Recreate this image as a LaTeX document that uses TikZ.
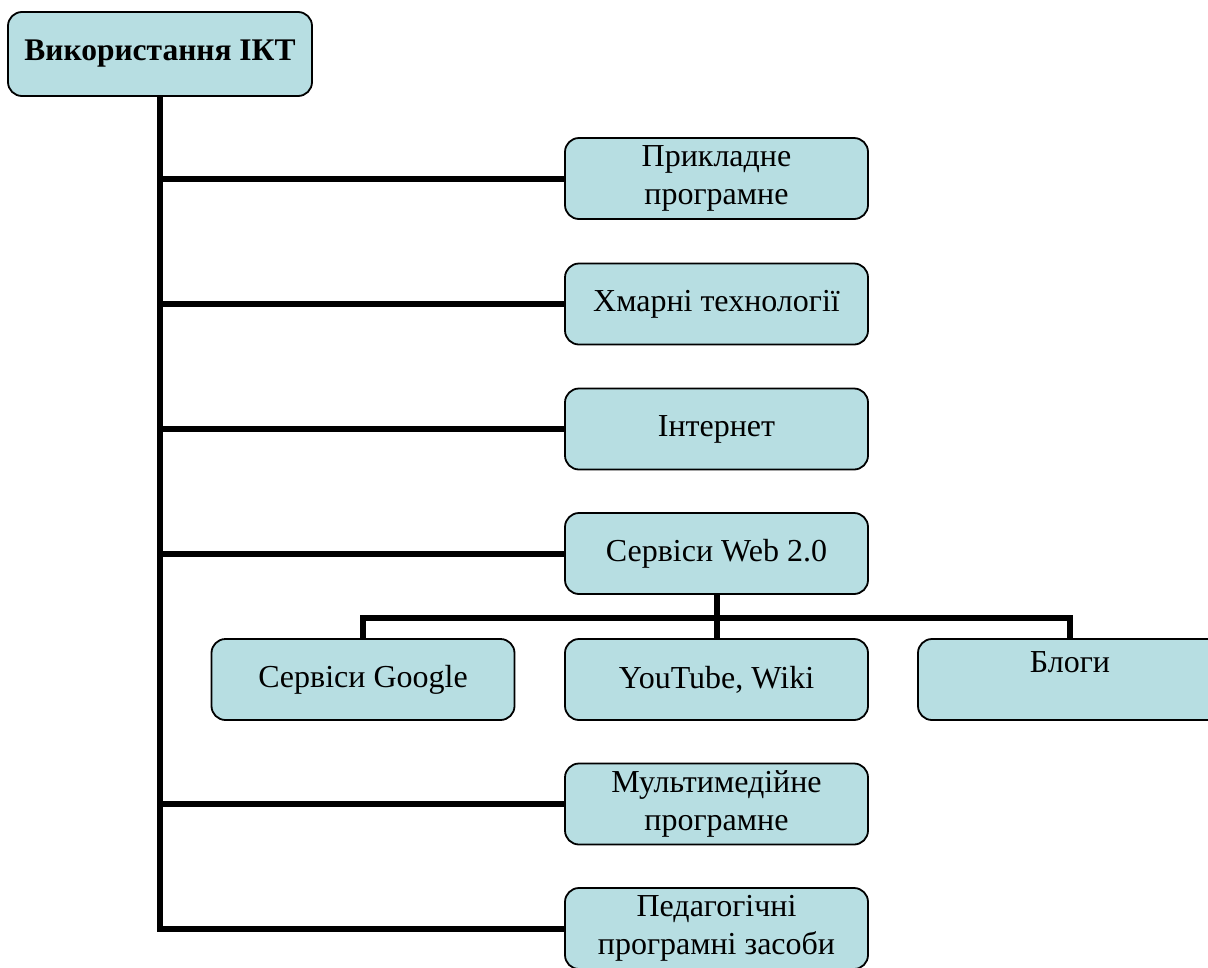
\documentclass[tikz,border=0pt]{standalone}
\usepackage{fontspec}
\setmainfont{Liberation Serif}
\usetikzlibrary{positioning}
\definecolor{boxfill}{RGB}{183,222,226}
\tikzset{
	box/.style={draw, line width=1.8pt, fill=boxfill, rounded corners=14pt,
		minimum width=303pt, minimum height=81pt, inner sep=0pt, align=center,
		font=\fontsize{32}{38}\selectfont},
	rootbox/.style={box, minimum width=304pt, minimum height=84pt,
		font=\fontsize{31.5}{36}\selectfont\bfseries},
	link/.style={line width=6pt}
}
\begin{document}
\begin{tikzpicture}[x=1pt,y=1pt]
	\useasboundingbox (0,0) rectangle (1208,-967);

	\node[rootbox] (root) at (160,-54) {Використання ІКТ};

	\node[box] (apps) at (716.5,-178.5) {Прикладне\\програмне};
	\node[box] (cloud) at (716.5,-304) {Хмарні технології};
	\node[box] (inet) at (716.5,-429) {Інтернет};
	\node[box] (web) at (716.5,-553.5) {Сервіси Web 2.0};
	\node[box] (google) at (363,-679.5) {Сервіси Google};
	\node[box] (tube) at (716.5,-679.5) {YouTube, Wiki};
	\node[box, minimum width=304pt] (blogs) at (1070,-679.5) {Блоги\\[-14pt] \strut};
	\node[box] (media) at (716.5,-804) {Мультимедійне\\програмне};
	\node[box] (pedag) at (716.5,-928.5) {Педагогічні\\програмні засоби};

	% trunk and branches
	\draw[link] (root.south) |- (pedag.west);
	\foreach \b in {apps,cloud,inet,web,media}
		\draw[link] (root.south |- \b.west) -- (\b.west);

	% web 2.0 services
	\coordinate[below=23pt of web.south] (hub);
	\draw[link] (web.south) -- (tube.north);
	\draw[link] (google.north) |- (hub) -| (blogs.north);
\end{tikzpicture}
\end{document}
